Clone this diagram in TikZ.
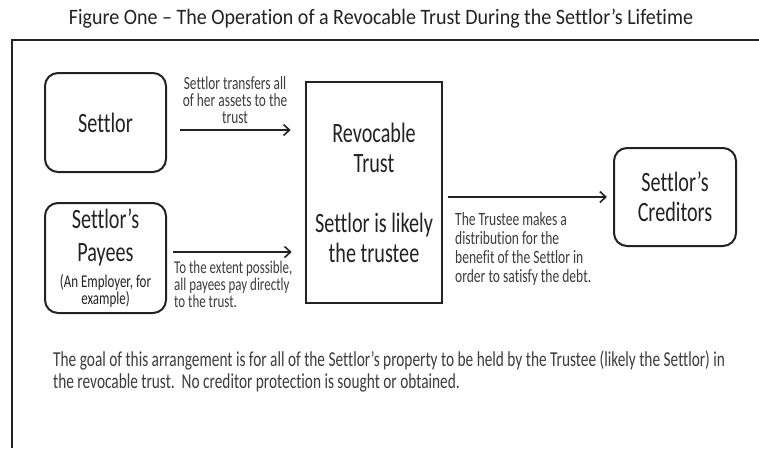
\documentclass[tikz,border=0pt]{standalone}
\usepackage{fontspec}
\setmainfont{Carlito}[FakeStretch=0.72,Ligatures=CommonOff]
\newfontfamily\headfont{Carlito}[FakeStretch=0.91,Ligatures=CommonOff]
\usetikzlibrary{arrows.meta,positioning,calc}
\definecolor{inkDark}{HTML}{222222}
\definecolor{inkMuted}{HTML}{3C3C3C}
\newcommand\smalltext{\fontsize{18}{17}\selectfont}
\newcommand\tightlines{\lineskiplimit=-100pt\relax\lineskip=0pt\relax}

\begin{document}
\begin{tikzpicture}[x=1pt,y=-1pt,party/.style={draw=inkDark,line width=2pt,rounded corners=13pt,align=center,font=\fontsize{28}{30}\selectfont,text=inkDark,inner sep=0pt},note/.style={font=\fontsize{18}{19}\selectfont,text=inkMuted,inner sep=0pt},arr/.style={-{Straight Barb[length=6pt,width=11pt]},line width=1.6pt,draw=inkDark}]
    \useasboundingbox (0,0) rectangle (759,448);
    \node[font=\headfont\fontsize{22}{24}\selectfont,text=inkDark] (title) at (381,19) {Figure One – The Operation of a Revocable Trust During the Settlor’s Lifetime};
    \draw[line width=2.6pt,draw=inkDark] (12,448) -- (12,40) -- (759,40);
    \node[party,minimum width=121pt,minimum height=99pt] (settlor) at (105.5,122.5) {Settlor};
    \node[party,minimum width=121pt,minimum height=110pt,font=\fontsize{28}{0}\selectfont\tightlines] (payees) at (105.5,258) {Settlor’s\\[33pt]Payees\\[26pt]\smalltext(An Employer, for\\[17pt]\smalltext example)};
    \node[party,rounded corners=0pt,line width=2.6pt,minimum width=136pt,minimum height=221pt] (trust) at (374,192.5) {Revocable\\Trust\\[30pt]Settlor is likely\\the trustee};
    \node[party,minimum width=122pt,minimum height=98pt] (creditors) at (675,197) {Settlor’s\\Creditors};
    \draw[arr] ([xshift=13pt,yshift=-7.5pt]settlor.east) -- ([xshift=-14pt,yshift=-7.5pt]settlor.east -| trust.west);
    \draw[arr] ([xshift=6pt,yshift=6pt]payees.east) -- ([xshift=-13pt,yshift=6pt]payees.east -| trust.west);
    \draw[arr] ([xshift=5pt]trust.east |- creditors.west) -- ([xshift=-6pt]creditors.west);
    \node[note,align=center,font=\fontsize{18.6}{16.8}\selectfont] (xfer) at (235,100) {Settlor transfers all\\of her assets to the\\trust};
    \node[note,align=left,anchor=north west,font=\fontsize{18}{17}\selectfont] (direct) at (174,261) {To the extent possible,\\all payees pay directly\\to the trust.};
    \node[note,align=left,anchor=north west,font=\fontsize{18.8}{19}\selectfont] (distrib) at (455,212) {The Trustee makes a\\distribution for the\\benefit of the Settlor in\\order to satisfy the debt.};
    \node[note,align=left,anchor=west,font=\fontsize{21.3}{22}\selectfont] (goal) at (53,372) {The goal of this arrangement is for all of the Settlor’s property to be held by the Trustee (likely the Settlor) in\\the revocable trust.\ \ No creditor protection is sought or obtained.};
\end{tikzpicture}
\end{document}
